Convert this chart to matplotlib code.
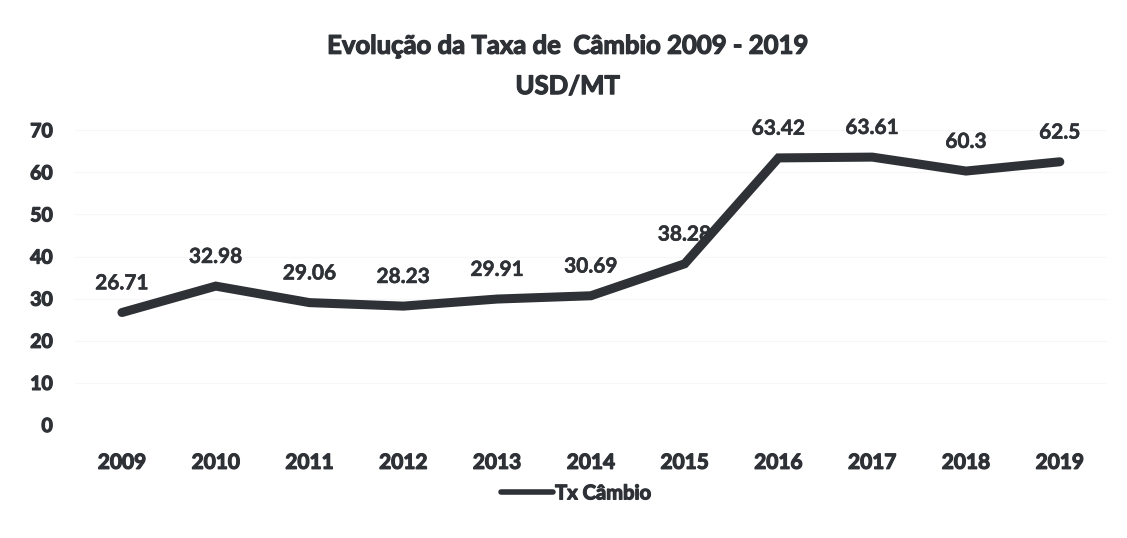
import matplotlib
matplotlib.use("Agg")
import matplotlib.pyplot as plt
import matplotlib.patheffects as pe

years = ["2009", "2010", "2011", "2012", "2013", "2014", "2015", "2016", "2017", "2018", "2019"]
rates = [26.71, 32.98, 29.06, 28.23, 29.91, 30.69, 38.28, 63.42, 63.61, 60.3, 62.5]
rate_labels = ["26.71", "32.98", "29.06", "28.23", "29.91", "30.69", "38.28", "63.42", "63.61", "60.3", "62.5"]
yticks = [0, 10, 20, 30, 40, 50, 60, 70]

plt.rcParams['font.family'] = ['Lato', 'DejaVu Sans']
color = "#2e3136"
thick = [pe.withStroke(linewidth=0.9, foreground=color)]
thin = [pe.withStroke(linewidth=0.4, foreground=color)]

fig = plt.figure(figsize=(11.27, 5.38), dpi=100)
ax = fig.add_axes([0.0666, 0.210, 0.9154, 0.548])
x = list(range(len(years)))
ax.plot(x, rates, color=color, lw=6.5, solid_joinstyle='miter', solid_capstyle='round', label="Tx Câmbio")
for xi, v, s in zip(x, rates, rate_labels):
    ax.annotate(s, (xi, v), xytext=(0, 21), textcoords='offset points', ha='center', va='center',
                fontsize=15, fontweight='bold', color=color, path_effects=thin)
ax.set_xlim(-0.5, len(years) - 0.5)
ax.set_ylim(0, 70)
ax.set_yticks(yticks)
ax.set_yticklabels([str(t) for t in yticks], fontsize=14, fontweight='bold', color=color)
ax.set_xticks(x)
ax.set_xticklabels(years, fontsize=15, fontweight='bold', color=color)
for t in ax.get_xticklabels() + ax.get_yticklabels():
    t.set_path_effects(thick)
ax.tick_params(axis='y', length=0, pad=16)
ax.tick_params(axis='x', length=0, pad=20)
ax.grid(axis='y', color='#f7f7f7', lw=0.8)
ax.set_axisbelow(True)
for sp in ax.spines.values():
    sp.set_visible(False)

fig.text(0.504, 0.915, "Evolução da Taxa de  Câmbio 2009 - 2019", ha='center', va='center',
         fontsize=18.5, fontweight='bold', color=color, path_effects=thick)
fig.text(0.504, 0.840, "USD/MT", ha='center', va='center', fontsize=18.5, fontweight='bold',
         color=color, path_effects=thick)

leg = fig.legend(loc='center', bbox_to_anchor=(0.511, 0.083), frameon=False, handlelength=2.6,
                 handletextpad=0.1, prop={'weight': 'bold', 'size': 14.5})
for t in leg.get_texts():
    t.set_color(color)
    t.set_path_effects(thick)
for l in leg.get_lines():
    l.set_linewidth(4)

fig.savefig("out.png", dpi=100, facecolor='white')
